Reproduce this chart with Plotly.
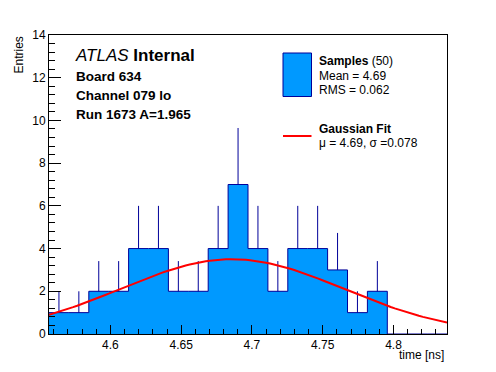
import numpy as np
import plotly.graph_objects as go

# ---- data ----
hist_lo = 4.5566
hist_hi = 4.8378
counts = [1, 1, 2, 2, 4, 4, 2, 2, 4, 7, 4, 2, 4, 4, 3, 1, 2, 0, 0, 0]
fit_amp = 3.5
fit_mu = 4.686
fit_sigma = 0.0785
x_ticks = [4.6, 4.65, 4.7, 4.75, 4.8]
x_tick_labels = ["4.6", "4.65", "4.7", "4.75", "4.8"]
y_ticks = [0, 2, 4, 6, 8, 10, 12, 14]

n_bins = len(counts)
edges = np.linspace(hist_lo, hist_hi, n_bins + 1)
centers = 0.5 * (edges[:-1] + edges[1:])
cnt = np.array(counts, dtype=float)
err = np.sqrt(cnt)

fx = np.linspace(hist_lo, hist_hi, 100)
fy = fit_amp * np.exp(-0.5 * ((fx - fit_mu) / fit_sigma) ** 2)

FILL = "#0099ff"
EDGE = "#000099"
FONT = "Liberation Sans, Arial, Helvetica, sans-serif"

fig = go.Figure()
# filled histogram with step outline
fig.add_trace(go.Scatter(
    x=list(edges), y=list(cnt) + [cnt[-1]],
    mode="lines", line=dict(shape="hv", color=EDGE, width=1),
    fill="tozeroy", fillcolor=FILL, showlegend=False, hoverinfo="skip"))
# upper error bars
mask = cnt > 0
fig.add_trace(go.Scatter(
    x=centers[mask], y=cnt[mask], mode="markers",
    marker=dict(size=0.1, color=EDGE, opacity=0),
    error_y=dict(type="data", symmetric=False, array=err[mask],
                 arrayminus=np.zeros(mask.sum()), color=EDGE,
                 thickness=1, width=0),
    showlegend=False, hoverinfo="skip"))
# gaussian fit
fig.add_trace(go.Scatter(
    x=fx, y=fy, mode="lines", line=dict(color="#ff0000", width=2),
    showlegend=False, hoverinfo="skip"))

L, R, T, B = 49, 447, 35, 334
W, H = 496, 372


def px(x):
    return (x - L) / (R - L)


def py(y):
    return (B - y) / (B - T)


fig.update_layout(
    width=W, height=H, margin=dict(l=L, r=W - R, t=T, b=H - B),
    paper_bgcolor="white", plot_bgcolor="white",
    font=dict(family=FONT, size=12, color="black"),
    showlegend=False,
)
fig.update_xaxes(
    range=[hist_lo, hist_hi], showgrid=False, zeroline=False,
    showline=True, linecolor="black", linewidth=1, mirror=True,
    ticks="inside", ticklen=9, tickcolor="black",
    tickvals=x_ticks, ticktext=x_tick_labels,
    minor=dict(ticks="inside", ticklen=5, dtick=0.01, tick0=4.6, tickcolor="black", showgrid=False),
    tickfont=dict(size=12),
)
fig.update_yaxes(
    range=[0, 14], showgrid=False, zeroline=False,
    showline=True, linecolor="black", linewidth=1, mirror=True,
    ticks="inside", ticklen=12, tickcolor="black",
    tickvals=y_ticks,
    minor=dict(ticks="inside", ticklen=6, dtick=0.4, tick0=0, tickcolor="black", showgrid=False),
    tickfont=dict(size=12),
)

ann = []


def text(x, y, s, size=12, xanchor="left", **kw):
    ann.append(dict(x=px(x), y=py(y), xref="paper", yref="paper", text=s,
                    showarrow=False, xanchor=xanchor, yanchor="middle",
                    font=dict(size=size, family=FONT, color="black"), **kw))


text(73, 56, "<i>ATLAS</i> <b>Internal</b>", size=17)
text(74, 76, "<b>Board 634</b>", size=13.5)
text(74, 95, "<b>Channel 079 lo</b>", size=13.5)
text(74, 114, "<b>Run 1673 A=1.965</b>", size=13.5)

text(317, 61, "<b>Samples</b> (50)", size=12)
text(317, 76, "Mean = 4.69", size=12)
text(317, 90, "RMS = 0.062", size=12)
text(317, 129, "<b>Gaussian Fit</b>", size=12)
text(317, 142.5, "μ = 4.69, σ =0.078", size=12)

text(446, 355, "time [ns]", size=12, xanchor="right")
ann.append(dict(x=px(18), y=py(35), xref="paper", yref="paper", text="Entries",
                showarrow=False, xanchor="center", yanchor="top", textangle=-90,
                font=dict(size=12, family=FONT, color="black")))
fig.update_layout(annotations=ann)

fig.update_layout(shapes=[
    dict(type="rect", xref="paper", yref="paper",
         x0=px(283), x1=px(311.5), y0=py(53), y1=py(96.5),
         fillcolor=FILL, line=dict(color=EDGE, width=1)),
    dict(type="line", xref="paper", yref="paper",
         x0=px(283), x1=px(311.5), y0=py(136), y1=py(136),
         line=dict(color="#ff0000", width=2)),
])

fig.write_html("out.html", config={"displayModeBar": False},
               post_script="document.body.style.margin='0';")
